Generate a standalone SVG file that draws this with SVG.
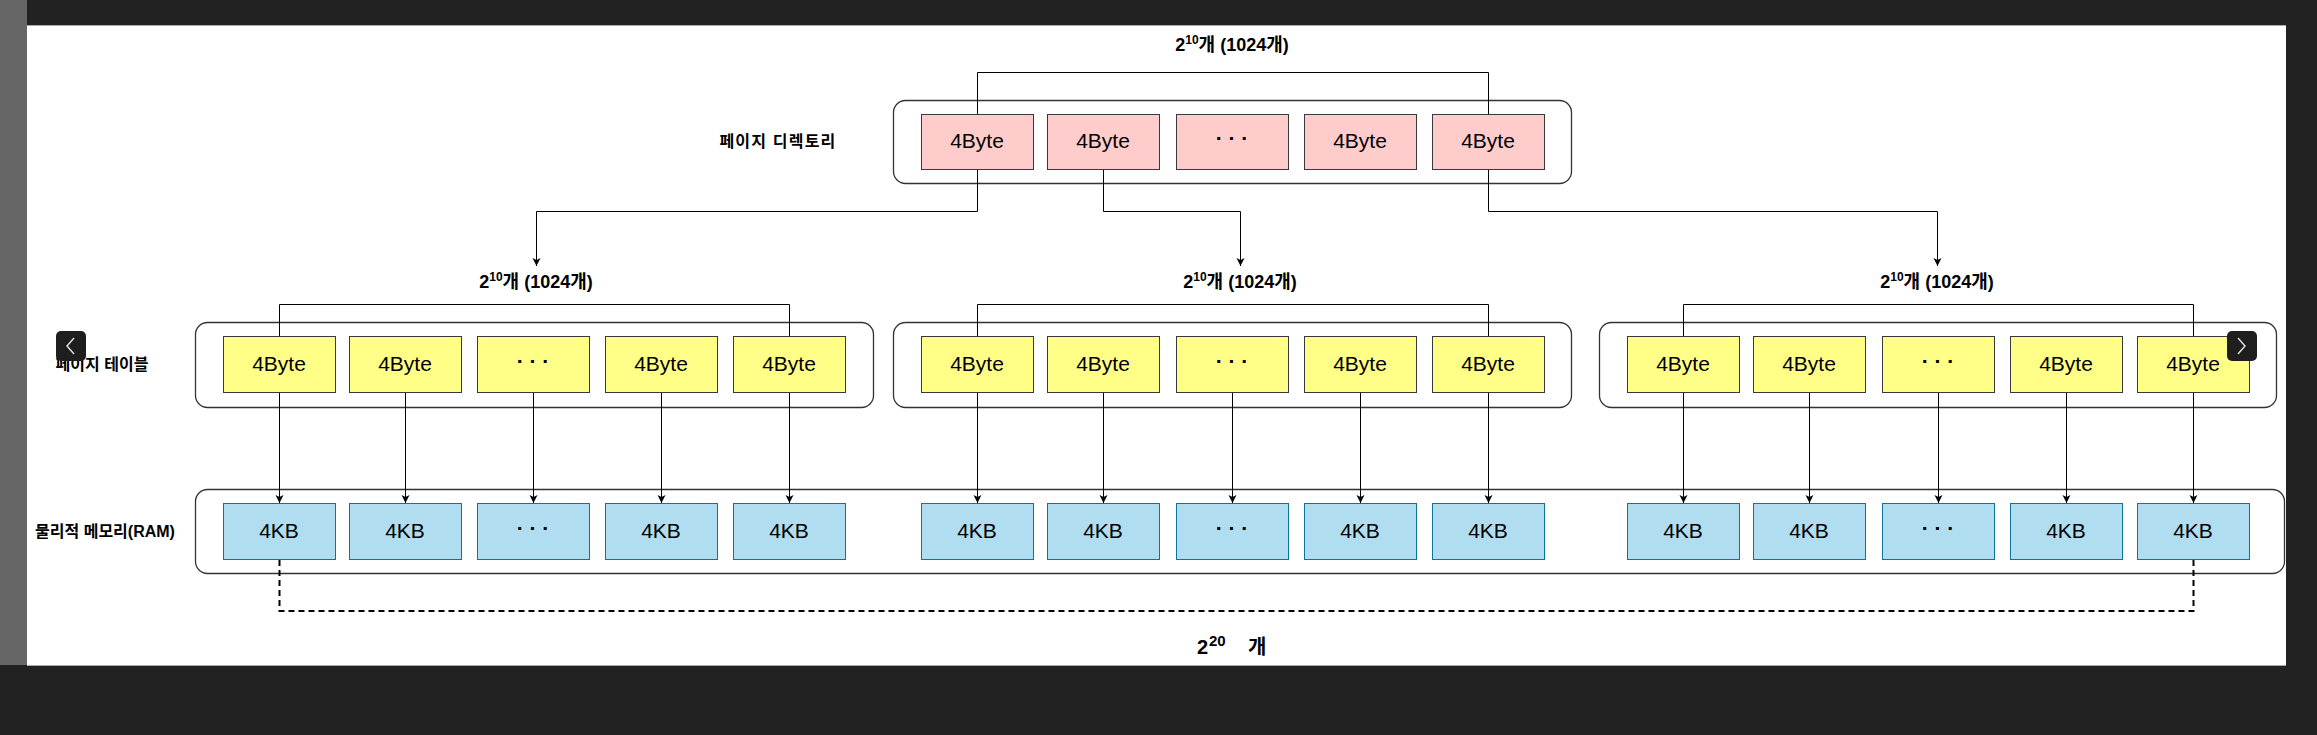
<svg xmlns="http://www.w3.org/2000/svg" width="2317" height="735" viewBox="0 0 2317 735">
<style>
.lbl{font-family:"Liberation Sans","Noto Sans CJK KR",sans-serif;font-weight:bold;fill:#000;}
.cap{font-size:18px;text-anchor:middle;}
.side{font-size:16px;text-anchor:middle;}
.ct{font-family:"Liberation Sans",Arial,sans-serif;font-size:21px;fill:#000;text-anchor:middle;}
.dots{font-family:"Liberation Sans",Arial,sans-serif;font-size:21px;font-weight:bold;fill:#000;text-anchor:middle;}
.box{fill:#fff;stroke:#333;stroke-width:1.3;}
.dir{fill:#ffcccc;stroke:#36393d;stroke-width:1;}
.pt{fill:#ffff88;stroke:#36393d;stroke-width:1;}
.mem{fill:#b1ddf0;stroke:#10739e;stroke-width:1;}
.ln{fill:none;stroke:#000;stroke-width:1;}
.ar{fill:none;stroke:#000;stroke-width:1;marker-end:url(#arr);}
.dash{fill:none;stroke:#000;stroke-width:2;stroke-dasharray:6 4;}
.nav{fill:#1e1e1e;}
.chev{fill:none;stroke:#ddd;stroke-width:1.5;}
</style>
<defs>
<marker id="arr" markerUnits="userSpaceOnUse" markerWidth="10" markerHeight="10" refX="8" refY="4" orient="auto">
<path d="M0,0 L8,4 L0,8 L2,4 z" fill="#000"/>
</marker>
</defs>
<!-- frame -->
<rect x="0" y="0" width="2317" height="735" fill="#222"/>
<rect x="0" y="0" width="27" height="665" fill="#666"/>
<rect x="27" y="25" width="2259" height="641" fill="#fff"/>
<line x1="27" y1="25.5" x2="2286" y2="25.5" stroke="#aaa" stroke-width="1"/>
<line x1="27" y1="665.5" x2="2286" y2="665.5" stroke="#aaa" stroke-width="1"/>

<g id="page-directory">
<rect class="box" x="893.5" y="100.5" width="678" height="83" rx="12"/>
<rect class="dir" x="921.5" y="114.5" width="112" height="55"/>
<rect class="dir" x="1047.5" y="114.5" width="112" height="55"/>
<rect class="dir" x="1176.5" y="114.5" width="112" height="55"/>
<rect class="dir" x="1304.5" y="114.5" width="112" height="55"/>
<rect class="dir" x="1432.5" y="114.5" width="112" height="55"/>
<text class="ct" x="977" y="148">4Byte</text>
<text class="ct" x="1103" y="148">4Byte</text>
<text class="dots" x="1232" y="145">· · ·</text>
<text class="ct" x="1360" y="148">4Byte</text>
<text class="ct" x="1488" y="148">4Byte</text>
</g>

<g id="page-table-1">
<rect class="box" x="195.5" y="322.5" width="678" height="85" rx="12"/>
<rect class="pt" x="223.5" y="336.5" width="112" height="56"/>
<rect class="pt" x="349.5" y="336.5" width="112" height="56"/>
<rect class="pt" x="477.5" y="336.5" width="112" height="56"/>
<rect class="pt" x="605.5" y="336.5" width="112" height="56"/>
<rect class="pt" x="733.5" y="336.5" width="112" height="56"/>
<text class="ct" x="279" y="371">4Byte</text>
<text class="ct" x="405" y="371">4Byte</text>
<text class="dots" x="533" y="368">· · ·</text>
<text class="ct" x="661" y="371">4Byte</text>
<text class="ct" x="789" y="371">4Byte</text>
</g>

<g id="page-table-2">
<rect class="box" x="893.5" y="322.5" width="678" height="85" rx="12"/>
<rect class="pt" x="921.5" y="336.5" width="112" height="56"/>
<rect class="pt" x="1047.5" y="336.5" width="112" height="56"/>
<rect class="pt" x="1176.5" y="336.5" width="112" height="56"/>
<rect class="pt" x="1304.5" y="336.5" width="112" height="56"/>
<rect class="pt" x="1432.5" y="336.5" width="112" height="56"/>
<text class="ct" x="977" y="371">4Byte</text>
<text class="ct" x="1103" y="371">4Byte</text>
<text class="dots" x="1232" y="368">· · ·</text>
<text class="ct" x="1360" y="371">4Byte</text>
<text class="ct" x="1488" y="371">4Byte</text>
</g>

<g id="page-table-3">
<rect class="box" x="1599.5" y="322.5" width="677" height="85" rx="12"/>
<rect class="pt" x="1627.5" y="336.5" width="112" height="56"/>
<rect class="pt" x="1753.5" y="336.5" width="112" height="56"/>
<rect class="pt" x="1882.5" y="336.5" width="112" height="56"/>
<rect class="pt" x="2010.5" y="336.5" width="112" height="56"/>
<rect class="pt" x="2137.5" y="336.5" width="112" height="56"/>
<text class="ct" x="1683" y="371">4Byte</text>
<text class="ct" x="1809" y="371">4Byte</text>
<text class="dots" x="1938" y="368">· · ·</text>
<text class="ct" x="2066" y="371">4Byte</text>
<text class="ct" x="2193" y="371">4Byte</text>
</g>

<g id="physical-memory">
<rect class="box" x="195.5" y="489.5" width="2089" height="84" rx="12"/>
<rect class="mem" x="223.5" y="503.5" width="112" height="56"/>
<rect class="mem" x="349.5" y="503.5" width="112" height="56"/>
<rect class="mem" x="477.5" y="503.5" width="112" height="56"/>
<rect class="mem" x="605.5" y="503.5" width="112" height="56"/>
<rect class="mem" x="733.5" y="503.5" width="112" height="56"/>
<rect class="mem" x="921.5" y="503.5" width="112" height="56"/>
<rect class="mem" x="1047.5" y="503.5" width="112" height="56"/>
<rect class="mem" x="1176.5" y="503.5" width="112" height="56"/>
<rect class="mem" x="1304.5" y="503.5" width="112" height="56"/>
<rect class="mem" x="1432.5" y="503.5" width="112" height="56"/>
<rect class="mem" x="1627.5" y="503.5" width="112" height="56"/>
<rect class="mem" x="1753.5" y="503.5" width="112" height="56"/>
<rect class="mem" x="1882.5" y="503.5" width="112" height="56"/>
<rect class="mem" x="2010.5" y="503.5" width="112" height="56"/>
<rect class="mem" x="2137.5" y="503.5" width="112" height="56"/>
<text class="ct" x="279" y="538">4KB</text>
<text class="ct" x="405" y="538">4KB</text>
<text class="dots" x="533" y="535">· · ·</text>
<text class="ct" x="661" y="538">4KB</text>
<text class="ct" x="789" y="538">4KB</text>
<text class="ct" x="977" y="538">4KB</text>
<text class="ct" x="1103" y="538">4KB</text>
<text class="dots" x="1232" y="535">· · ·</text>
<text class="ct" x="1360" y="538">4KB</text>
<text class="ct" x="1488" y="538">4KB</text>
<text class="ct" x="1683" y="538">4KB</text>
<text class="ct" x="1809" y="538">4KB</text>
<text class="dots" x="1938" y="535">· · ·</text>
<text class="ct" x="2066" y="538">4KB</text>
<text class="ct" x="2193" y="538">4KB</text>
</g>

<g id="labels">
<text class="lbl side" x="778" y="147" letter-spacing="1.2" font-size="17">페이지 디렉토리</text>
<text class="lbl side" x="102" y="370">페이지 테이블</text>
<text class="lbl side" x="105" y="537">물리적 메모리(RAM)</text>
<text class="lbl cap" x="1232" y="51">2<tspan font-size="12" dy="-7">10</tspan><tspan dy="7">개 (1024개)</tspan></text>
<text class="lbl cap" x="536" y="288">2<tspan font-size="12" dy="-7">10</tspan><tspan dy="7">개 (1024개)</tspan></text>
<text class="lbl cap" x="1240" y="288">2<tspan font-size="12" dy="-7">10</tspan><tspan dy="7">개 (1024개)</tspan></text>
<text class="lbl cap" x="1937" y="288">2<tspan font-size="12" dy="-7">10</tspan><tspan dy="7">개 (1024개)</tspan></text>
<text class="lbl" x="1197" y="654" font-size="20">2<tspan x="1209" font-size="15" dy="-8">20</tspan><tspan x="1248" dy="8">개</tspan></text>
</g>

<g id="connectors">
<path class="ln" d="M977.5,114 V72.5 H1488.5 V114"/>
<path class="ln" d="M279.5,336 V304.5 H789.5 V336"/>
<path class="ln" d="M977.5,336 V304.5 H1488.5 V336"/>
<path class="ln" d="M1683.5,336 V304.5 H2193.5 V336"/>
<path class="ar" d="M977.5,170 V211.5 H536.5 V266"/>
<path class="ar" d="M1103.5,170 V211.5 H1240.5 V266"/>
<path class="ar" d="M1488.5,170 V211.5 H1937.5 V266"/>
<path class="ar" d="M279.5,393 V503"/>
<path class="ar" d="M405.5,393 V503"/>
<path class="ar" d="M533.5,393 V503"/>
<path class="ar" d="M661.5,393 V503"/>
<path class="ar" d="M789.5,393 V503"/>
<path class="ar" d="M977.5,393 V503"/>
<path class="ar" d="M1103.5,393 V503"/>
<path class="ar" d="M1232.5,393 V503"/>
<path class="ar" d="M1360.5,393 V503"/>
<path class="ar" d="M1488.5,393 V503"/>
<path class="ar" d="M1683.5,393 V503"/>
<path class="ar" d="M1809.5,393 V503"/>
<path class="ar" d="M1938.5,393 V503"/>
<path class="ar" d="M2066.5,393 V503"/>
<path class="ar" d="M2193.5,393 V503"/>
<path class="dash" d="M279.5,560 V611 H2193.5 V560"/>
</g>

<g id="nav-left">
<rect class="nav" x="56" y="331" width="30" height="30" rx="5"/>
<path class="chev" d="M74,338 L67,346 L74,354"/>
</g>
<g id="nav-right">
<rect class="nav" x="2227" y="331" width="30" height="30" rx="5"/>
<path class="chev" d="M2238,338 L2245,346 L2238,354"/>
</g>
</svg>
